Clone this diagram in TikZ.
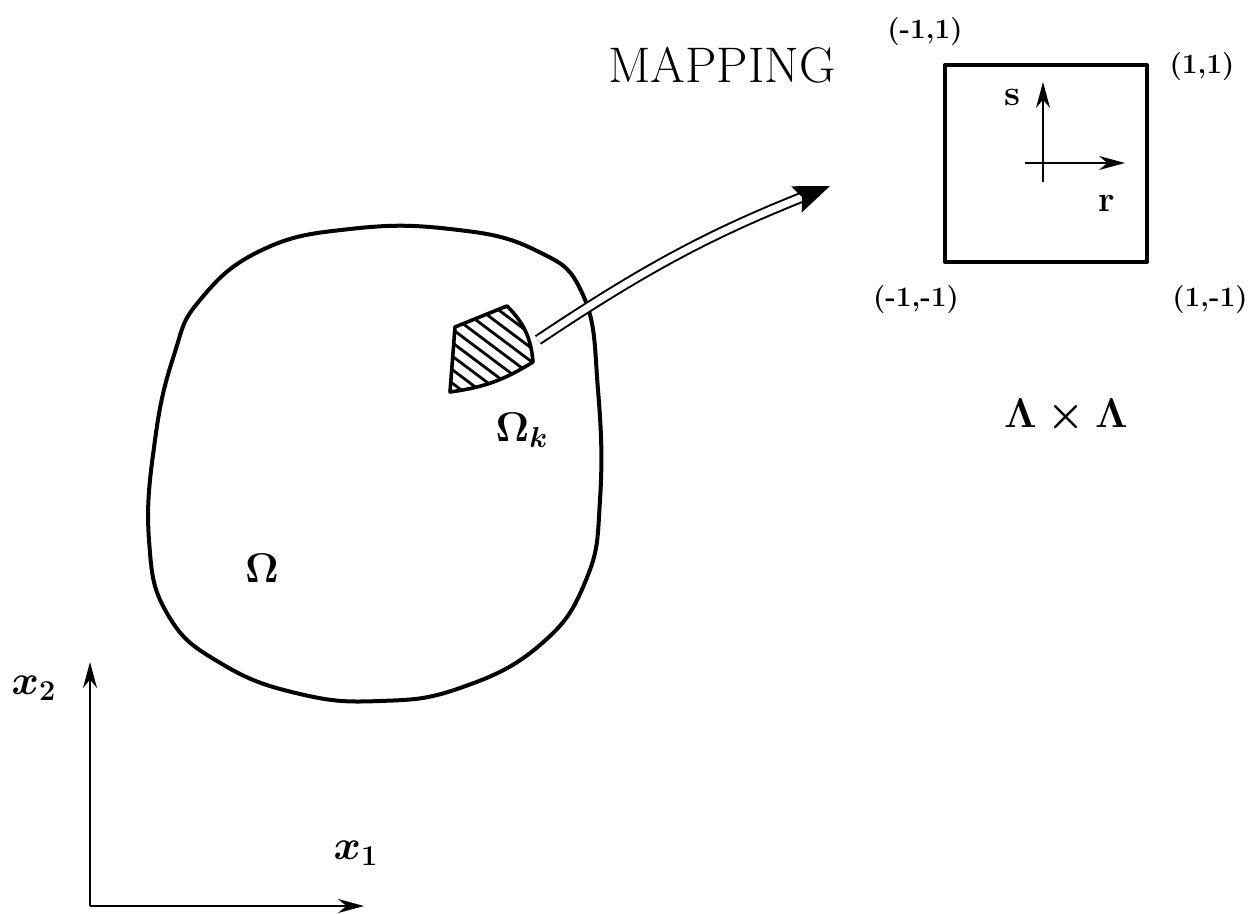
\documentclass[tikz,border=0pt]{standalone}
\usepackage{amsmath}
\usetikzlibrary{arrows.meta}

\begin{document}
\begin{tikzpicture}[x=0.5pt, y=-0.5pt,
  outline/.style={draw=black, line width=2pt, line join=round},
  axisarrow/.style={draw=black, line width=1pt, -{Stealth[length=13pt, width=7pt]}},
  maparrow/.style={draw=black, line width=1pt, double=white, double distance=3.5pt,
    -{Stealth[length=18pt, width=14pt, inset=3pt]}},
  cornerlabel/.style={font=\fontsize{14}{16}\selectfont\bfseries},
  mathlabel/.style={font=\fontsize{22}{24}\selectfont\boldmath},
]
\useasboundingbox (0,0) rectangle (1252,914);
%%% region Omega
\draw[outline] plot[smooth cycle, tension=0.75] coordinates {
  (200,300) (262,250) (350,229) (450,229) (535,250) (583,295) (598,390)
  (600,500) (586,580) (540,645) (460,688) (380,701) (300,694) (222,664)
  (168,615) (149,540) (155,440) (174,355)};
\node[mathlabel] (omega) at (262,568) {$\Omega$};
%%% element Omega_k
\begin{scope}
  \clip (455,327) -- (507,306) to[bend left=20] (533,362)
    to[bend left=12] (450,392) -- cycle;
  \foreach \d in {-130,-112,...,110}
    \draw[line width=1.4pt] (440+\d,290) -- ++(160,120);
\end{scope}
\draw[line width=1.8pt, line join=round] (455,327) -- (507,306) to[bend left=20] (533,362)
  to[bend left=12] (450,392) -- cycle;
\node[mathlabel] (omegak) at (522,430) {$\Omega_{k}$};
%%% mapping
\coordinate (mapstart) at (538,340);
\coordinate (maptip) at (830,186);
\draw[maparrow] (mapstart) to[bend left=6] (maptip);
\node[font=\fontsize{25}{27}\selectfont] (mapping) at (722,65) {MAPPING};
%%% reference square
\draw[outline] (945,65) rectangle (1147,262);
\coordinate (rs0) at (1043,182);
\coordinate (rstart) at (1025,163);
\coordinate (rend) at (1125,163);
\coordinate (send) at (1043,82);
\draw[axisarrow] (rs0) -- (send);
\draw[axisarrow] (rstart) -- (rend);
\node[font=\fontsize{18}{20}\selectfont\bfseries] (slabel) at (1012,97) {s};
\node[font=\fontsize{18}{20}\selectfont\bfseries] (rlabel) at (1107,203) {r};
\node[cornerlabel] (cnw) at (925,32) {(-1,1)};
\node[cornerlabel] (cne) at (1202,67) {(1,1)};
\node[cornerlabel] (csw) at (916,300) {(-1,-1)};
\node[cornerlabel] (cse) at (1210,300) {(1,-1)};
\node[mathlabel] (lamlam) at (1066,416) {$\Lambda\times\Lambda$};
%%% global axes
\coordinate (origin) at (90,906);
\coordinate (xoneend) at (364,906);
\coordinate (xtwoend) at (90,662);
\draw[axisarrow] (origin) -- (xtwoend);
\draw[axisarrow] (origin) -- (xoneend);
\node[mathlabel] (xtwo) at (34,688) {$x_2$};
\node[mathlabel] (xone) at (356,853) {$x_1$};
\end{tikzpicture}
\end{document}
